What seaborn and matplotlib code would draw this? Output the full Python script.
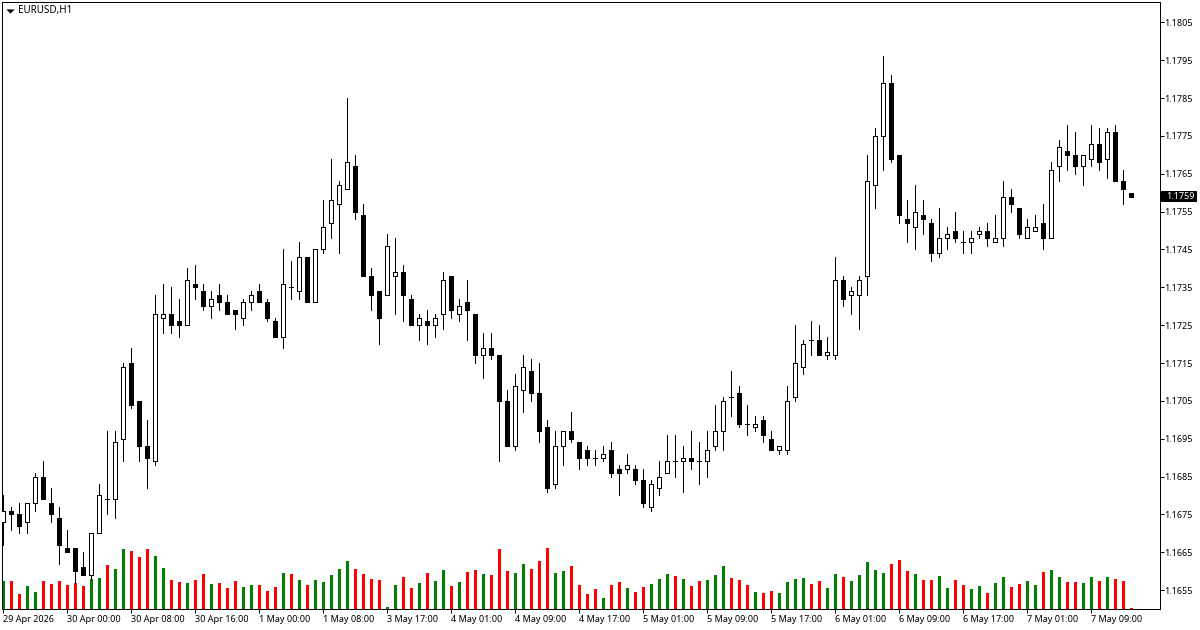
"""EURUSD H1 candlestick chart with tick volume bars, MT4 look."""

import pandas as pd
import matplotlib
matplotlib.use('Agg')
import matplotlib.pyplot as plt
from matplotlib.patches import Rectangle
import seaborn as sns

opens = [
    1.1673, 1.1676, 1.1675, 1.1673, 1.1678, 1.1685, 1.1678, 1.1674, 1.1666, 1.1666,
    1.1661, 1.1659, 1.1670, 1.1679, 1.1679, 1.1695, 1.1715, 1.1705, 1.1693, 1.1689,
    1.1727, 1.1728, 1.1726, 1.1725, 1.1736, 1.1734, 1.1730, 1.1733, 1.1731, 1.1729,
    1.1727, 1.1731, 1.1734, 1.1731, 1.1726, 1.1722, 1.1735, 1.1734, 1.1743, 1.1731,
    1.1745, 1.1752, 1.1757, 1.1761, 1.1767, 1.1754, 1.1738, 1.1734, 1.1733, 1.1738,
    1.1739, 1.1732, 1.1725, 1.1726, 1.1725, 1.1728, 1.1738, 1.1728, 1.1731, 1.1728,
    1.1717, 1.1719, 1.1717, 1.1705, 1.1693, 1.1708, 1.1713, 1.1707, 1.1698, 1.1683,
    1.1693, 1.1697, 1.1694, 1.1692, 1.1690, 1.1690, 1.1692, 1.1687, 1.1687, 1.1687,
    1.1684, 1.1677, 1.1682, 1.1686, 1.1689, 1.1689, 1.1690, 1.1689, 1.1689, 1.1693,
    1.1697, 1.1706, 1.1707, 1.1699, 1.1698, 1.1700, 1.1695, 1.1692, 1.1692, 1.1706,
    1.1714, 1.1721, 1.1721, 1.1717, 1.1717, 1.1737, 1.1733, 1.1733, 1.1738, 1.1762,
    1.1775, 1.1789, 1.1770, 1.1753, 1.1751, 1.1754, 1.1752, 1.1744, 1.1748, 1.1750,
    1.1747, 1.1747, 1.1749, 1.1750, 1.1747, 1.1748, 1.1759, 1.1756, 1.1748, 1.1750,
    1.1752, 1.1748, 1.1767, 1.1771, 1.1770, 1.1767, 1.1769, 1.1773, 1.1769, 1.1776,
    1.1763, 1.1760,
]
highs = [
    1.1680, 1.1677, 1.1678, 1.1678, 1.1686, 1.1689, 1.1682, 1.1677, 1.1671, 1.1666,
    1.1665, 1.1670, 1.1683, 1.1697, 1.1697, 1.1715, 1.1719, 1.1705, 1.1700, 1.1733,
    1.1736, 1.1735, 1.1732, 1.1740, 1.1741, 1.1736, 1.1734, 1.1736, 1.1733, 1.1729,
    1.1732, 1.1734, 1.1736, 1.1732, 1.1727, 1.1745, 1.1742, 1.1747, 1.1743, 1.1745,
    1.1758, 1.1769, 1.1763, 1.1785, 1.1770, 1.1757, 1.1740, 1.1734, 1.1749, 1.1748,
    1.1741, 1.1733, 1.1728, 1.1729, 1.1728, 1.1739, 1.1738, 1.1732, 1.1737, 1.1728,
    1.1723, 1.1723, 1.1717, 1.1708, 1.1712, 1.1717, 1.1716, 1.1715, 1.1700, 1.1697,
    1.1697, 1.1702, 1.1694, 1.1693, 1.1692, 1.1693, 1.1694, 1.1688, 1.1691, 1.1688,
    1.1687, 1.1684, 1.1689, 1.1696, 1.1696, 1.1693, 1.1697, 1.1694, 1.1697, 1.1704,
    1.1706, 1.1713, 1.1709, 1.1704, 1.1701, 1.1701, 1.1697, 1.1693, 1.1709, 1.1725,
    1.1721, 1.1726, 1.1725, 1.1722, 1.1743, 1.1738, 1.1735, 1.1738, 1.1770, 1.1777,
    1.1796, 1.1791, 1.1770, 1.1758, 1.1762, 1.1758, 1.1753, 1.1756, 1.1751, 1.1755,
    1.1750, 1.1750, 1.1751, 1.1752, 1.1754, 1.1763, 1.1761, 1.1756, 1.1753, 1.1754,
    1.1757, 1.1768, 1.1774, 1.1778, 1.1776, 1.1770, 1.1778, 1.1777, 1.1777, 1.1778,
    1.1766, 1.1760,
]
lows = [
    1.1667, 1.1671, 1.1670, 1.1670, 1.1676, 1.1679, 1.1673, 1.1662, 1.1665, 1.1657,
    1.1659, 1.1658, 1.1670, 1.1675, 1.1674, 1.1689, 1.1703, 1.1689, 1.1682, 1.1688,
    1.1723, 1.1723, 1.1722, 1.1725, 1.1732, 1.1729, 1.1727, 1.1729, 1.1728, 1.1724,
    1.1725, 1.1729, 1.1731, 1.1726, 1.1722, 1.1719, 1.1732, 1.1732, 1.1731, 1.1731,
    1.1744, 1.1748, 1.1744, 1.1761, 1.1753, 1.1738, 1.1729, 1.1720, 1.1733, 1.1728,
    1.1726, 1.1725, 1.1721, 1.1720, 1.1722, 1.1724, 1.1727, 1.1726, 1.1721, 1.1715,
    1.1711, 1.1716, 1.1689, 1.1693, 1.1692, 1.1702, 1.1705, 1.1694, 1.1681, 1.1682,
    1.1688, 1.1694, 1.1687, 1.1688, 1.1688, 1.1689, 1.1685, 1.1680, 1.1686, 1.1683,
    1.1677, 1.1676, 1.1680, 1.1686, 1.1685, 1.1681, 1.1687, 1.1683, 1.1685, 1.1692,
    1.1692, 1.1701, 1.1698, 1.1696, 1.1697, 1.1694, 1.1692, 1.1691, 1.1691, 1.1705,
    1.1712, 1.1717, 1.1717, 1.1716, 1.1716, 1.1730, 1.1728, 1.1724, 1.1733, 1.1756,
    1.1766, 1.1768, 1.1752, 1.1747, 1.1745, 1.1749, 1.1742, 1.1743, 1.1745, 1.1747,
    1.1744, 1.1744, 1.1748, 1.1746, 1.1747, 1.1746, 1.1755, 1.1748, 1.1748, 1.1750,
    1.1745, 1.1748, 1.1763, 1.1766, 1.1765, 1.1762, 1.1767, 1.1766, 1.1764, 1.1763,
    1.1757, 1.1759,
]
closes = [
    1.1676, 1.1675, 1.1672, 1.1678, 1.1685, 1.1679, 1.1675, 1.1667, 1.1665, 1.1660,
    1.1659, 1.1670, 1.1680, 1.1679, 1.1694, 1.1714, 1.1704, 1.1693, 1.1690, 1.1728,
    1.1728, 1.1725, 1.1725, 1.1737, 1.1735, 1.1730, 1.1732, 1.1731, 1.1728, 1.1728,
    1.1731, 1.1733, 1.1731, 1.1727, 1.1722, 1.1736, 1.1735, 1.1743, 1.1731, 1.1745,
    1.1751, 1.1758, 1.1762, 1.1768, 1.1755, 1.1738, 1.1733, 1.1727, 1.1746, 1.1739,
    1.1733, 1.1725, 1.1727, 1.1725, 1.1727, 1.1737, 1.1729, 1.1730, 1.1729, 1.1717,
    1.1719, 1.1717, 1.1705, 1.1693, 1.1709, 1.1714, 1.1707, 1.1697, 1.1682, 1.1693,
    1.1697, 1.1695, 1.1690, 1.1690, 1.1690, 1.1691, 1.1686, 1.1686, 1.1688, 1.1684,
    1.1678, 1.1683, 1.1685, 1.1689, 1.1689, 1.1690, 1.1689, 1.1689, 1.1692, 1.1697,
    1.1705, 1.1706, 1.1699, 1.1699, 1.1699, 1.1696, 1.1692, 1.1693, 1.1705, 1.1715,
    1.1720, 1.1721, 1.1717, 1.1718, 1.1737, 1.1732, 1.1734, 1.1737, 1.1763, 1.1775,
    1.1789, 1.1769, 1.1754, 1.1752, 1.1755, 1.1753, 1.1744, 1.1748, 1.1749, 1.1748,
    1.1747, 1.1748, 1.1750, 1.1748, 1.1748, 1.1759, 1.1757, 1.1749, 1.1751, 1.1751,
    1.1748, 1.1766, 1.1772, 1.1770, 1.1767, 1.1770, 1.1773, 1.1768, 1.1776, 1.1763,
    1.1761, 1.1759,
]
volumes = [
    2800, 2800, 1500, 2300, 1700, 2800, 2500, 2800, 2400, 2600,
    2300, 3000, 3100, 4400, 4000, 6000, 5800, 5200, 6000, 5300,
    4100, 2900, 2700, 2600, 2900, 3500, 2500, 2600, 2100, 2800,
    2200, 2400, 2400, 1800, 2200, 3600, 3500, 2900, 2400, 2900,
    2700, 3400, 4000, 4800, 4000, 3500, 3000, 2900, 200, 2400,
    3200, 2100, 2600, 3600, 2800, 3900, 2300, 2700, 3700, 3900,
    3500, 3400, 6000, 3800, 3600, 4500, 4000, 4800, 6100, 3600,
    3800, 4300, 2400, 1500, 2000, 1100, 2400, 2700, 2100, 1700,
    2200, 2500, 3000, 3500, 3300, 3000, 2300, 2800, 2900, 3400,
    4300, 3100, 2900, 2400, 1700, 1600, 1800, 1600, 2700, 3000,
    3100, 2500, 2800, 2100, 3500, 3200, 2800, 3400, 4700, 3900,
    3600, 4500, 4900, 3800, 3500, 2900, 2900, 3300, 2100, 2900,
    2400, 2000, 2300, 1600, 2600, 3200, 2200, 2500, 2800, 2400,
    3700, 3900, 3200, 2700, 2700, 2600, 3200, 2800, 3200, 3000,
    2800, 100,
]
volume_dir = list(
    'grrggrrrrr' 'rggrggrrrg' 'grrgrrgrrr' 'ggrrrgrgrg' 'ggggrrrrgg'
    'rrgrggrgrr' 'grrrggrrrg' 'grrrrgrrgr' 'rgggrgrrgg' 'grrrgrrggg'
    'grrggrgggg' 'grrrgrrggr' 'rggrggrrgg' 'rggrrggrgr' 'rr'
)
price_ticks = [1.1655, 1.1665, 1.1675, 1.1685, 1.1695, 1.1705, 1.1715, 1.1725,
               1.1735, 1.1745, 1.1755, 1.1765, 1.1775, 1.1785, 1.1795, 1.1805]
time_labels = ['29 Apr 2026', '30 Apr 00:00', '30 Apr 08:00', '30 Apr 16:00',
               '1 May 00:00', '1 May 08:00', '3 May 17:00', '4 May 01:00',
               '4 May 09:00', '4 May 17:00', '5 May 01:00', '5 May 09:00',
               '5 May 17:00', '6 May 01:00', '6 May 09:00', '6 May 17:00',
               '7 May 01:00', '7 May 09:00']
last_price = 1.1759

sns.set_theme(style='ticks')
plt.rcParams['font.family'] = ['Noto Sans', 'DejaVu Sans']
plt.rcParams['axes.linewidth'] = 0.72

W, H = 1200, 630
PX = 72 / 100  # one pixel in points at dpi 100
FONT = 6.5


def draw_volumes(ax, df):
    sns.barplot(data=df, x='bar', y='volume', hue='dir', native_scale=True,
                palette={'g': '#008000', 'r': '#ff0000'}, dodge=False, width=0.375,
                saturation=1, linewidth=0, legend=False, ax=ax)
    ax.set_ylim(0, 60700)
    ax.set_yticks([])
    ax.set_xlabel('')
    ax.set_ylabel('')


def draw_candles(ax, df):
    ax.vlines(df['bar'], df['low'], df['high'], color='black', linewidth=PX,
              antialiased=False, zorder=2)
    up = df['close'] >= df['open']
    for mask, face in ((up, 'white'), (~up, 'black')):
        part = df[mask]
        ax.bar(part['bar'], part['close'] - part['open'], bottom=part['open'],
               width=0.5, facecolor=face, edgecolor='black', linewidth=PX,
               antialiased=False, zorder=3)


df = pd.DataFrame({'bar': range(len(opens)), 'open': opens, 'high': highs, 'low': lows,
                   'close': closes, 'volume': volumes, 'dir': volume_dir})

fig = plt.figure(figsize=(W / 100, H / 100), dpi=100)
ax = fig.add_axes([2.0 / W, 1 - 609.0 / H, 1158 / W, 607 / H])
ax_vol = ax.twinx()
ax.set_zorder(ax_vol.get_zorder() + 1)
ax.patch.set_visible(False)

draw_volumes(ax_vol, df)
draw_candles(ax, df)

ax.set_xlim(-0.125, 144.625)
ax.set_ylim(1.16500, 1.18104)

ax.yaxis.tick_right()
ax.set_yticks(price_ticks)
ax.set_yticklabels([f'{p:.4f}' for p in price_ticks])
ax.set_xticks(range(0, 8 * len(time_labels), 8))
ax.set_xticklabels(time_labels, ha='left')
ax.tick_params(axis='both', length=3, width=PX, color='black', labelsize=FONT,
               labelcolor='black')
ax.tick_params(axis='x', pad=1.5)
ax.tick_params(axis='y', pad=0.2)
for side in ('top', 'bottom', 'left', 'right'):
    ax.spines[side].set_visible(True)
    ax.spines[side].set_color('black')
    ax_vol.spines[side].set_visible(False)

# current price badge on the right scale
ax.add_patch(Rectangle((1 + 1 / 1158, last_price - 0.000145), 36 / 1158, 0.00029,
                       transform=ax.get_yaxis_transform(), facecolor='black',
                       edgecolor='none', clip_on=False, zorder=9))
ax.annotate(f'{last_price:.4f}', xy=(1, last_price), xycoords=('axes fraction', 'data'),
            xytext=(6, 0), textcoords='offset pixels', va='center', ha='left', fontsize=FONT,
            color='white', annotation_clip=False, zorder=10)

# symbol caption, top left
ax.plot([8 / 1158], [1 - 8.5 / 607], marker=[(-3, 1.5), (3, 1.5), (0, -1.5)], markersize=6,
        color='black', markeredgewidth=0, transform=ax.transAxes, clip_on=False, zorder=10)
ax.text(16 / 1158, 1 - 8 / 607, 'EURUSD,H1', transform=ax.transAxes, ha='left',
        va='center', fontsize=7.1, color='black', zorder=10)

fig.savefig('out.png', dpi=100)
